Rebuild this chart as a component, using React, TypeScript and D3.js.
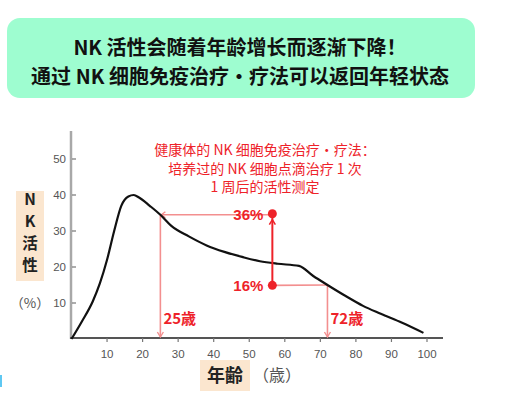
import React from "react";
import * as d3 from "d3";

const titleLines = ["NK 活性会随着年龄增长而逐渐下降！", "通过 NK 细胞免疫治疗・疗法可以返回年轻状态"];
const noteLines = ["健康体的 NK 细胞免疫治疗・疗法：", "培养过的 NK 细胞点滴治疗 1 次", "1 周后的活性测定"];
const ages = [0, 3, 6, 8, 10, 12, 14, 16, 17.5, 19, 22, 25, 28, 33, 38, 43, 48, 53, 58, 64, 68, 72, 77, 82, 87, 93, 99];
const nkValues = [0, 5, 10.5, 15.5, 22, 30, 37, 39.6, 40, 39.3, 37, 34.5, 31.5, 28.5, 26, 24.2, 22.8, 21.6, 20.9, 20.3, 17.5, 15, 12, 9.2, 7, 4.5, 1.7];
const xTicks = [10, 20, 30, 40, 50, 60, 70, 80, 90, 100];
const yTicks = [10, 20, 30, 40, 50];
const markAges = [25, 72];
const markLabels = ["25歳", "72歳"];
const dotAge = 56.5;
const dotValues = [34.8, 14.9];
const dotLabels = ["36%", "16%"];
const yLabelChars = ["N", "K", "活", "性"];

const CJK = "'Noto Sans CJK SC', 'Noto Sans', sans-serif";
const CJKJP = "'Noto Sans CJK JP', 'Noto Sans', sans-serif";
const RED = "#ee2229";
const PINK = "#f38f8f";

export default function App() {
  const x = d3.scaleLinear().domain([0, 100]).range([71.5, 427]);
  const y = d3.scaleLinear().domain([0, 50]).range([339, 159]);
  const pts = ages.map((a, i) => [a, nkValues[i]] as [number, number]);
  const line = d3
    .line<[number, number]>()
    .x((d) => x(d[0]))
    .y((d) => y(d[1]))
    .curve(d3.curveMonotoneX);
  const interp = (a: number) => {
    for (let i = 0; i < ages.length - 1; i++) {
      if (a >= ages[i] && a <= ages[i + 1]) {
        const t = (a - ages[i]) / (ages[i + 1] - ages[i]);
        return nkValues[i] + t * (nkValues[i + 1] - nkValues[i]);
      }
    }
    return 0;
  };
  const v25 = interp(markAges[0]);
  const v72 = interp(markAges[1]);
  const dx = x(dotAge);
  const axisY = 338;

  return (
    <svg width={520} height={397} style={{ position: "absolute", left: 0, top: 0 }}>
      <rect x={0} y={0} width={520} height={397} fill="#fff" />
      {/* title box */}
      <rect x={7} y={18} width={468} height={80} rx={13} fill="#9efdd0" />
      {titleLines.map((t, i) => (
        <text key={i} x={240} y={55 + i * 29} textAnchor="middle" fontFamily={CJK} fontWeight="bold" fontSize={20} fill="#111">
          {t}
        </text>
      ))}
      {/* note */}
      {noteLines.map((t, i) => (
        <text key={i} x={265} y={155 + i * 18.5} textAnchor="middle" fontFamily={CJK} fontSize={14} fill={RED}>
          {t}
        </text>
      ))}
      {/* axes */}
      <line x1={71} x2={71} y1={131} y2={339} stroke="#a8a8a8" strokeWidth={2.5} />
      <line x1={70} x2={443} y1={axisY} y2={axisY} stroke="#555" strokeWidth={2} />
      {yTicks.map((t) => (
        <g key={t}>
          <line x1={72} x2={76} y1={y(t)} y2={y(t)} stroke="#777" strokeWidth={1.2} />
          <text x={66} y={y(t) + 4} textAnchor="end" fontFamily="'Liberation Sans', Arial, sans-serif" fontSize={11.5} fill="#555">
            {t}
          </text>
        </g>
      ))}
      {xTicks.map((t) => (
        <g key={t}>
          <line x1={x(t)} x2={x(t)} y1={axisY} y2={axisY + 4} stroke="#777" strokeWidth={1.2} />
          <text x={x(t)} y={358} textAnchor="middle" fontFamily="'Liberation Sans', Arial, sans-serif" fontSize={11.5} fill="#555">
            {t}
          </text>
        </g>
      ))}
      {/* y label */}
      <rect x={16} y={191} width={28} height={90} fill="#fbe6cf" />
      {yLabelChars.map((c, i) => (
        <text key={c} x={30} y={205 + i * 22} textAnchor="middle" fontFamily={CJK} fontWeight="bold" fontSize={15.5} fill="#222">
          {c}
        </text>
      ))}
      <text x={30} y={308} textAnchor="middle" fontFamily={CJK} fontSize={13.5} fill="#555">
        （%）
      </text>
      {/* x label */}
      <rect x={200} y={360} width={50} height={31} fill="#fbe6cf" />
      <text x={225} y={382} textAnchor="middle" fontFamily={CJKJP} fontWeight="bold" fontSize={18} fill="#222">
        年齢
      </text>
      <text x={277} y={381} textAnchor="middle" fontFamily={CJKJP} fontSize={16} fill="#555">
        （歳）
      </text>
      {/* annotation lines */}
      <line x1={x(markAges[0])} x2={dx} y1={y(v25)} y2={y(v25)} stroke={PINK} strokeWidth={1.6} />
      <polyline points={`${x(markAges[0]) + 5},${y(v25) - 3} ${x(markAges[0]) + 1},${y(v25)} ${x(markAges[0]) + 5},${y(v25) + 3}`} fill="none" stroke={PINK} strokeWidth={1.4} />
      <line x1={x(markAges[0])} x2={x(markAges[0])} y1={y(v25)} y2={axisY - 1} stroke={PINK} strokeWidth={1.6} />
      <polyline points={`${x(markAges[0]) - 3},${axisY - 6} ${x(markAges[0])},${axisY - 1} ${x(markAges[0]) + 3},${axisY - 6}`} fill="none" stroke={PINK} strokeWidth={1.4} />
      <line x1={dx} x2={x(markAges[1])} y1={y(dotValues[1])} y2={y(v72)} stroke={PINK} strokeWidth={1.6} />
      <line x1={x(markAges[1])} x2={x(markAges[1])} y1={y(v72)} y2={axisY - 1} stroke={PINK} strokeWidth={1.6} />
      <polyline points={`${x(markAges[1]) - 3},${axisY - 6} ${x(markAges[1])},${axisY - 1} ${x(markAges[1]) + 3},${axisY - 6}`} fill="none" stroke={PINK} strokeWidth={1.4} />
      {/* curve */}
      <path d={line(pts) || ""} fill="none" stroke="#111" strokeWidth={2.2} />
      {/* red arrow between dots */}
      <line x1={dx} x2={dx} y1={y(dotValues[1])} y2={y(dotValues[0]) + 4} stroke={RED} strokeWidth={2} />
      <polyline points={`${dx - 3},${y(dotValues[0]) + 11} ${dx},${y(dotValues[0]) + 6} ${dx + 3},${y(dotValues[0]) + 11}`} fill="none" stroke={RED} strokeWidth={1.5} />
      {dotValues.map((v, i) => (
        <g key={i}>
          <circle cx={dx} cy={y(v)} r={4.5} fill={RED} />
          <text x={dx - 9} y={y(v) + 6} textAnchor="end" fontFamily="'Liberation Sans', Arial, sans-serif" fontWeight="bold" fontSize={15} fill={RED}>
            {dotLabels[i]}
          </text>
        </g>
      ))}
      {markAges.map((a, i) => (
        <text key={a} x={x(a) + 3} y={324} fontFamily={CJKJP} fontWeight="bold" fontSize={15} fill={RED}>
          {markLabels[i]}
        </text>
      ))}
      {/* small blue artifact */}
      <rect x={0} y={375} width={2} height={12} fill="#5ec8f2" />
    </svg>
  );
}
